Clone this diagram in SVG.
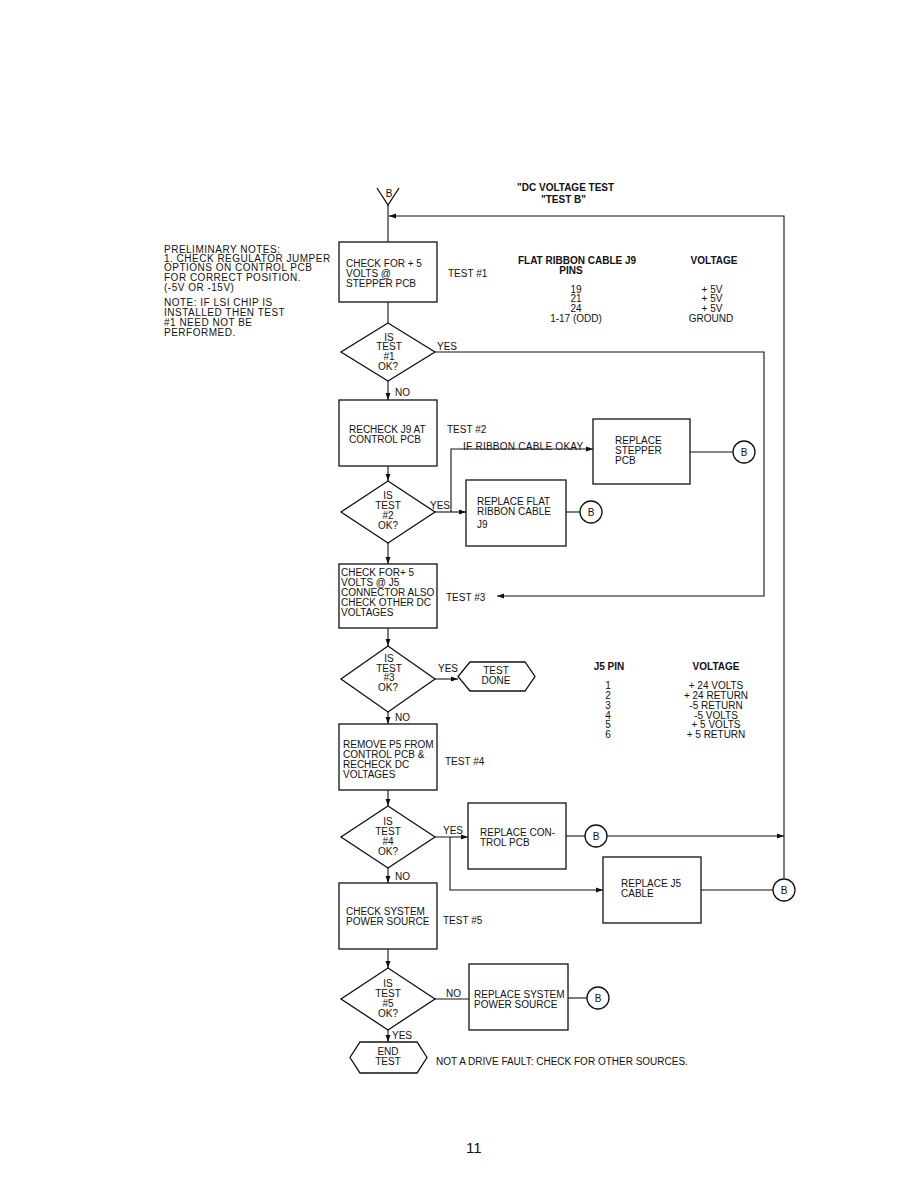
<svg xmlns="http://www.w3.org/2000/svg" width="918" height="1188" viewBox="0 0 918 1188">
<style>
text{font-family:"Liberation Sans",Arial,sans-serif;font-size:10px;fill:#111}
.b{font-weight:bold}
.c{text-anchor:middle}
.s{fill:none;stroke:#111;stroke-width:1.3}
.l{fill:none;stroke:#111;stroke-width:1.1}
#notes text{letter-spacing:0.5px}
</style>
<defs>
<marker id="a" viewBox="0 0 10 10" refX="10" refY="5" markerWidth="7" markerHeight="7" orient="auto" markerUnits="userSpaceOnUse"><path d="M0,1.5L10,5L0,8.5z" fill="#111"/></marker>
</defs>
<rect width="918" height="1188" fill="#fff"/>
<text class="b" x="517" y="191">"DC VOLTAGE TEST</text>
<text class="b" x="541" y="203">"TEST B"</text>
<g id="notes">
<text x="164" y="253">PRELIMINARY NOTES:</text>
<text x="164" y="262">1. CHECK REGULATOR JUMPER</text>
<text x="164" y="271">OPTIONS ON CONTROL PCB</text>
<text x="164" y="281">FOR CORRECT POSITION.</text>
<text x="164" y="291">(-5V OR -15V)</text>
<text x="164" y="306">NOTE: IF LSI CHIP IS</text>
<text x="164" y="316">INSTALLED THEN TEST</text>
<text x="164" y="326">#1 NEED NOT BE</text>
<text x="164" y="336">PERFORMED.</text>
</g>
<g id="table1">
<text class="b c" x="577" y="264">FLAT RIBBON CABLE J9</text>
<text class="b c" x="571" y="274">PINS</text>
<text class="b c" x="714" y="264">VOLTAGE</text>
<text class="c" x="576" y="293">19</text><text class="c" x="576" y="302">21</text><text class="c" x="576" y="312">24</text><text class="c" x="576" y="322">1-17 (ODD)</text>
<text class="c" x="712" y="293">+ 5V</text><text class="c" x="712" y="302">+ 5V</text><text class="c" x="712" y="312">+ 5V</text><text class="c" x="711" y="322">GROUND</text>
</g>
<g id="table2">
<text class="b c" x="609" y="670">J5 PIN</text>
<text class="b c" x="716" y="670">VOLTAGE</text>
<text class="c" x="608" y="689">1</text><text class="c" x="608" y="699">2</text><text class="c" x="608" y="709">3</text><text class="c" x="608" y="719">4</text><text class="c" x="608" y="728">5</text><text class="c" x="608" y="738">6</text>
<text class="c" x="716" y="689">+ 24 VOLTS</text><text class="c" x="716" y="699">+ 24 RETURN</text><text class="c" x="716" y="709">-5 RETURN</text><text class="c" x="716" y="719">-5 VOLTS</text><text class="c" x="716" y="728">+ 5 VOLTS</text><text class="c" x="716" y="738">+ 5 RETURN</text>
</g>
<g id="connectors">
<path class="l" d="M388,205V242"/>
<path class="l" d="M784,878V216H389" marker-end="url(#a)"/>
<path class="l" d="M388,302V323"/>
<path class="l" d="M435,352H764V596H497" marker-end="url(#a)"/>
<path class="l" d="M388,381V400" marker-end="url(#a)"/>
<path class="l" d="M388,466V481" marker-end="url(#a)"/>
<path class="l" d="M435,512H466" marker-end="url(#a)"/>
<path class="l" d="M451,512V449H593" marker-end="url(#a)"/>
<path class="l" d="M566,512H580"/>
<path class="l" d="M690,452H733"/>
<path class="l" d="M388,543V564" marker-end="url(#a)"/>
<path class="l" d="M388,628V646" marker-end="url(#a)"/>
<path class="l" d="M435,679H458" marker-end="url(#a)"/>
<path class="l" d="M388,712V724" marker-end="url(#a)"/>
<path class="l" d="M388,790V806" marker-end="url(#a)"/>
<path class="l" d="M435,837H468" marker-end="url(#a)"/>
<path class="l" d="M450,837V890H603" marker-end="url(#a)"/>
<path class="l" d="M566,836H585"/>
<path class="l" d="M607,836H784" marker-end="url(#a)"/>
<path class="l" d="M701,890H773"/>
<path class="l" d="M388,868V883" marker-end="url(#a)"/>
<path class="l" d="M388,949V968" marker-end="url(#a)"/>
<path class="l" d="M435,999H469"/>
<path class="l" d="M568,998H587"/>
<path class="l" d="M388,1030V1042" marker-end="url(#a)"/>
<text x="437" y="350">YES</text>
<text x="395" y="396">NO</text>
<text x="447" y="433">TEST #2</text>
<text x="463" y="450" style="letter-spacing:0.25px">IF RIBBON CABLE OKAY</text>
<text x="430" y="509">YES</text>
<text x="438" y="672">YES</text>
<text x="395" y="721">NO</text>
<text x="443" y="834">YES</text>
<text x="395" y="880">NO</text>
<text x="446" y="997">NO</text>
<text x="392" y="1039">YES</text>
<text x="448" y="277">TEST #1</text>
<text x="446" y="601">TEST #3</text>
<text x="445" y="765">TEST #4</text>
<text x="443" y="924">TEST #5</text>
</g>
<g id="entryB"><path class="s" d="M377,188L388,205L399,188"/><text class="c" x="389" y="197">B</text></g>
<g id="box1"><rect class="s" x="339" y="242" width="98" height="60"/><text x="346" y="267">CHECK FOR  + 5</text><text x="346" y="277">VOLTS @</text><text x="346" y="287">STEPPER PCB</text></g>
<g id="dec1"><path class="s" d="M388,323L435,352L388,381L341,352Z"/><text class="c" x="389" y="341">IS</text><text class="c" x="389" y="350">TEST</text><text class="c" x="389" y="360">#1</text><text class="c" x="388" y="370">OK?</text></g>
<g id="box2"><rect class="s" x="339" y="400" width="98" height="66"/><text x="349" y="433">RECHECK J9 AT</text><text x="349" y="443">CONTROL PCB</text></g>
<g id="dec2"><path class="s" d="M388,481L435,512L388,543L341,512Z"/><text class="c" x="388" y="499">IS</text><text class="c" x="388" y="509">TEST</text><text class="c" x="388" y="519">#2</text><text class="c" x="388" y="529">OK?</text></g>
<g id="box3"><rect class="s" x="466" y="480" width="100" height="66"/><text x="477" y="505">REPLACE FLAT</text><text x="477" y="515">RIBBON CABLE</text><text x="477" y="528">J9</text></g>
<g id="cB1"><circle class="s" cx="591" cy="512" r="11"/><text class="c" x="591" y="516">B</text></g>
<g id="box4"><rect class="s" x="593" y="419" width="97" height="65"/><text x="615" y="444">REPLACE</text><text x="615" y="454">STEPPER</text><text x="615" y="464">PCB</text></g>
<g id="cB2"><circle class="s" cx="744" cy="452" r="11"/><text class="c" x="744" y="456">B</text></g>
<g id="box5"><rect class="s" x="339" y="564" width="98" height="64"/><text x="341" y="576">CHECK FOR+ 5</text><text x="341" y="586">VOLTS @  J5</text><text x="341" y="596">CONNECTOR ALSO</text><text x="341" y="606">CHECK OTHER DC</text><text x="341" y="616">VOLTAGES</text></g>
<g id="dec3"><path class="s" d="M388,646L435,679L388,712L341,679Z"/><text class="c" x="389" y="662">IS</text><text class="c" x="389" y="672">TEST</text><text class="c" x="389" y="681">#3</text><text class="c" x="388" y="691">OK?</text></g>
<g id="done"><path class="s" d="M470,662H525L535,676.5L525,691H470L458,676.5Z"/><text class="c" x="496" y="674">TEST</text><text class="c" x="496" y="684">DONE</text></g>
<g id="box6"><rect class="s" x="339" y="724" width="98" height="66"/><text x="343" y="748">REMOVE P5 FROM</text><text x="343" y="758">CONTROL PCB &amp;</text><text x="343" y="768">RECHECK DC</text><text x="343" y="778">VOLTAGES</text></g>
<g id="dec4"><path class="s" d="M388,806L435,837L388,868L341,837Z"/><text class="c" x="388" y="825">IS</text><text class="c" x="388" y="835">TEST</text><text class="c" x="388" y="845">#4</text><text class="c" x="388" y="855">OK?</text></g>
<g id="box7"><rect class="s" x="468" y="803" width="98" height="66"/><text x="480" y="836">REPLACE CON-</text><text x="480" y="846">TROL PCB</text></g>
<g id="cB3"><circle class="s" cx="596" cy="836" r="11"/><text class="c" x="596" y="840">B</text></g>
<g id="box8"><rect class="s" x="603" y="857" width="98" height="66"/><text x="621" y="887">REPLACE J5</text><text x="621" y="897">CABLE</text></g>
<g id="cB4"><circle class="s" cx="784" cy="890" r="11"/><text class="c" x="784" y="894">B</text></g>
<g id="box9"><rect class="s" x="339" y="883" width="98" height="66"/><text x="346" y="915">CHECK SYSTEM</text><text x="346" y="925">POWER SOURCE</text></g>
<g id="dec5"><path class="s" d="M388,968L435,999L388,1030L341,999Z"/><text class="c" x="388" y="987">IS</text><text class="c" x="388" y="997">TEST</text><text class="c" x="388" y="1007">#5</text><text class="c" x="388" y="1017">OK?</text></g>
<g id="box10"><rect class="s" x="469" y="964" width="99" height="66"/><text x="474" y="998">REPLACE SYSTEM</text><text x="474" y="1008">POWER SOURCE</text></g>
<g id="cB5"><circle class="s" cx="598" cy="998" r="11"/><text class="c" x="598" y="1002">B</text></g>
<g id="end"><path class="s" d="M360,1042H417L427,1057.5L417,1073H360L350,1057.5Z"/><text class="c" x="388" y="1055">END</text><text class="c" x="388" y="1065">TEST</text></g>
<text x="436" y="1065">NOT A DRIVE FAULT: CHECK FOR OTHER SOURCES.</text>
<text x="466" y="1153" style="font-size:15px">11</text>
</svg>
